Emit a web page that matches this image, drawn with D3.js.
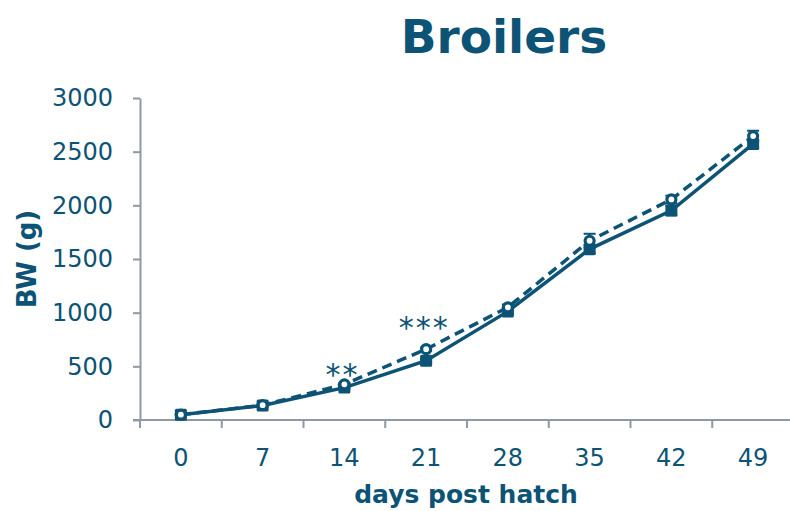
<!DOCTYPE html>
<html>
<head>
<meta charset="utf-8">
<script src="https://cdn.jsdelivr.net/npm/d3@7"></script>
<style>
  html, body { margin: 0; padding: 0; background: #fff; }
  svg { display: block; }
  text { font-family: "DejaVu Sans", Verdana, sans-serif; }
</style>
</head>
<body>
<svg id="chart" width="790" height="511"></svg>
<script>
// Body weight of broilers by age (g), two groups with SEM
const days = [0, 7, 14, 21, 28, 35, 42, 49];
const solidBW = [48, 135, 302, 552, 1012, 1592, 1952, 2572];
const solidSEM = [5, 6, 10, 15, 25, 40, 45, 40];
const dashedBW = [50, 138, 332, 660, 1050, 1670, 2055, 2645];
const dashedSEM = [5, 6, 10, 15, 25, 65, 35, 50];
const yTicks = [0, 500, 1000, 1500, 2000, 2500, 3000];
// significance marks, centred at the given BW level
const significance = [
  { day: 14, label: "**", level: 455 },
  { day: 21, label: "***", level: 895 }
];

const ink = "#0c5375";
const axisGrey = "#8e99a6";

const svg = d3.select("#chart");

const x = d3.scaleBand().domain(days).range([140, 794]).paddingInner(0).paddingOuter(0);
const y = d3.scaleLinear().domain([0, 3000]).range([420, 98]);
const cx = d => x(d) + x.bandwidth() / 2;

// Y axis
const yAxis = svg.append("g")
  .attr("transform", "translate(140,0)")
  .call(d3.axisLeft(y).tickValues(yTicks).tickFormat(d3.format("d"))
    .tickSize(7).tickSizeOuter(0).tickPadding(20));
yAxis.select(".domain").attr("stroke", axisGrey).attr("stroke-width", 2);
yAxis.selectAll(".tick line").attr("stroke", axisGrey).attr("stroke-width", 2);
yAxis.selectAll(".tick text")
  .attr("fill", ink).attr("font-size", 24).attr("font-family", "DejaVu Sans, Verdana, sans-serif");

// X axis: ticks sit on the category boundaries, labels at the centres
const xAxis = svg.append("g").attr("transform", "translate(0,420)");
xAxis.append("line")
  .attr("x1", 133).attr("x2", 794).attr("y1", 0).attr("y2", 0)
  .attr("stroke", axisGrey).attr("stroke-width", 2);
xAxis.selectAll("line.tick").data(days).join("line")
  .attr("class", "tick")
  .attr("x1", d => x(d)).attr("x2", d => x(d))
  .attr("y1", 0).attr("y2", 8)
  .attr("stroke", axisGrey).attr("stroke-width", 2);
xAxis.selectAll("text").data(days).join("text")
  .attr("x", d => cx(d)).attr("y", 46)
  .attr("text-anchor", "middle")
  .attr("fill", ink).attr("font-size", 24)
  .text(d => d);

// Axis titles and chart title
svg.append("text")
  .attr("x", 504).attr("y", 53)
  .attr("text-anchor", "middle")
  .attr("fill", ink).attr("font-size", 47).attr("font-weight", "bold")
  .text("Broilers");

svg.append("text")
  .attr("x", 466).attr("y", 503)
  .attr("text-anchor", "middle")
  .attr("fill", ink).attr("font-size", 25).attr("font-weight", "bold")
  .text("days post hatch");

svg.append("text")
  .attr("transform", "translate(36,259) rotate(-90)")
  .attr("text-anchor", "middle")
  .attr("fill", ink).attr("font-size", 26).attr("font-weight", "bold")
  .text("BW (g)");

// Series
const solidData = days.map((d, i) => ({ day: d, v: solidBW[i], e: solidSEM[i] }));
const dashedData = days.map((d, i) => ({ day: d, v: dashedBW[i], e: dashedSEM[i] }));

const line = d3.line().x(d => cx(d.day)).y(d => y(d.v));

function errorBars(data) {
  const g = svg.append("g").attr("stroke", ink).attr("stroke-width", 2);
  g.selectAll("line.v").data(data).join("line")
    .attr("class", "v")
    .attr("x1", d => cx(d.day)).attr("x2", d => cx(d.day))
    .attr("y1", d => y(d.v - d.e)).attr("y2", d => y(d.v + d.e));
  g.selectAll("line.t").data(data).join("line")
    .attr("class", "t")
    .attr("x1", d => cx(d.day) - 6).attr("x2", d => cx(d.day) + 6)
    .attr("y1", d => y(d.v + d.e)).attr("y2", d => y(d.v + d.e));
  g.selectAll("line.b").data(data).join("line")
    .attr("class", "b")
    .attr("x1", d => cx(d.day) - 6).attr("x2", d => cx(d.day) + 6)
    .attr("y1", d => y(d.v - d.e)).attr("y2", d => y(d.v - d.e));
}

errorBars(solidData);
errorBars(dashedData);

svg.append("path").datum(dashedData)
  .attr("d", line).attr("fill", "none")
  .attr("stroke", ink).attr("stroke-width", 3.5)
  .attr("stroke-dasharray", "10,6");

svg.append("path").datum(solidData)
  .attr("d", line).attr("fill", "none")
  .attr("stroke", ink).attr("stroke-width", 3.5);

// Filled square markers (solid series)
svg.append("g").selectAll("rect").data(solidData).join("rect")
  .attr("x", d => cx(d.day) - 6).attr("y", d => y(d.v) - 6)
  .attr("width", 12).attr("height", 12)
  .attr("rx", 1.5)
  .attr("fill", ink);

// Open circle markers (dashed series)
svg.append("g").selectAll("circle").data(dashedData).join("circle")
  .attr("cx", d => cx(d.day)).attr("cy", d => y(d.v))
  .attr("r", 4.5)
  .attr("fill", "#fff").attr("stroke", ink).attr("stroke-width", 3.2);

// Significance marks (baseline dropped so the asterisks centre on the level)
svg.append("g").selectAll("text").data(significance).join("text")
  .attr("x", d => cx(d.day) - 2)
  .attr("y", d => y(d.level) + 14)
  .attr("text-anchor", "middle")
  .attr("fill", ink).attr("font-size", 30)
  .attr("letter-spacing", 2)
  .text(d => d.label);
</script>
</body>
</html>
